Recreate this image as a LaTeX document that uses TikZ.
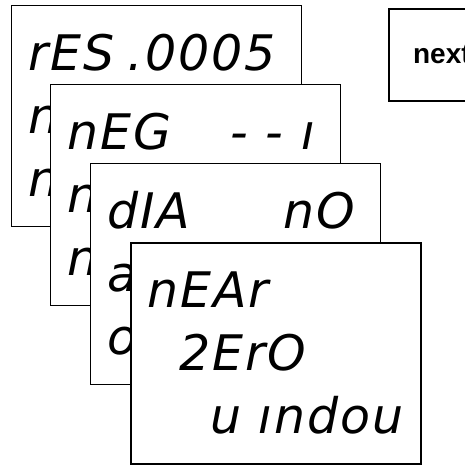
\documentclass[tikz,border=0pt]{standalone}
\usepackage{fontspec}
\newfontfamily\lcdfont[LetterSpace=4]{DejaVu Sans}
\newfontfamily\keyfont{Liberation Sans}
\usetikzlibrary{positioning}

\begin{document}
\begin{tikzpicture}[
    x=1pt, y=-1pt,
    card/.style={
        draw, line width=1pt, fill=white, anchor=north west,
        minimum width=290pt, minimum height=221pt, inner sep=0pt},
    front/.style={card, line width=1.8pt},   % top card of the stack
    lcd/.style={font=\lcdfont\itshape\fontsize{49}{49}\selectfont,
                inner sep=0pt},
    keybox/.style={draw, line width=1.8pt, anchor=north west,
                   minimum width=106pt, minimum height=92pt,
                   font=\keyfont\bfseries\fontsize{28}{28}\selectfont},
]
\useasboundingbox (0,0) rectangle (465,464);

% ============================ key ========================================
\node[keybox] (nextkey) at (388,8) {next};

% ============================ card 1 =====================================
\node[card] (card1) at (11,5) {};
\node[lcd, anchor=base west] (res) at ([xshift=17pt, yshift=-65pt]card1.north west) {rES};
\node[lcd, anchor=base east] (resval) at ([xshift=265pt, yshift=-65pt]card1.north west) {.0005};
\node[lcd, anchor=base west] (resb) at ([xshift=17pt, yshift=-128pt]card1.north west) {n};
\node[lcd, anchor=base west] (resc) at ([xshift=17pt, yshift=-191pt]card1.north west) {n};

% ============================ card 2 =====================================
\node[card] (card2) at (50,84) {};
\node[lcd, anchor=base west] (neg) at ([xshift=17pt, yshift=-65pt]card2.north west) {nEG};
\node[lcd, anchor=base east] (negval) at ([xshift=265pt, yshift=-65pt]card2.north west) {- - ı};
\node[lcd, anchor=base west] (negb) at ([xshift=17pt, yshift=-128pt]card2.north west) {n};
\node[lcd, anchor=base west] (negc) at ([xshift=17pt, yshift=-191pt]card2.north west) {n};

% ============================ card 3 =====================================
\node[card] (card3) at (90,163) {};
\node[lcd, anchor=base west] (dia) at ([xshift=17pt, yshift=-65pt]card3.north west) {dIA};
\node[lcd, anchor=base east] (diaval) at ([xshift=265pt, yshift=-65pt]card3.north west) {nO};
\node[lcd, anchor=base west] (diab) at ([xshift=17pt, yshift=-128pt]card3.north west) {a};
\node[lcd, anchor=base west] (diac) at ([xshift=17pt, yshift=-191pt]card3.north west) {o};

% ============================ card 4 (front) =============================
\node[front] (card4) at (130,242) {};
\node[lcd, anchor=base west] (near) at ([xshift=17pt, yshift=-65pt]card4.north west) {nEAr};
\node[lcd, anchor=base west] (zero) at ([xshift=49pt, yshift=-128pt]card4.north west) {2ErO};
\node[lcd, anchor=base west] (window) at ([xshift=80pt, yshift=-191pt]card4.north west) {u ındou};

\end{tikzpicture}
\end{document}
